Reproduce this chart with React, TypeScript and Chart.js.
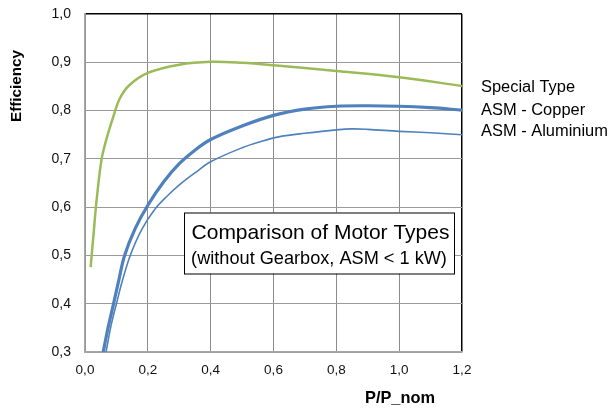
import React, { useEffect, useRef } from "react";
import { Chart, registerables } from "chart.js";

Chart.register(...registerables);

// ---- data ----
const seriesNames = ["Special Type", "ASM - Copper", "ASM - Aluminium"];

const xSpecial = [0.018, 0.028, 0.037, 0.053, 0.07, 0.09, 0.11, 0.14, 0.2, 0.3, 0.4, 0.5, 0.6, 0.8, 1.0, 1.2];
const ySpecial = [0.476, 0.55, 0.615, 0.7, 0.745, 0.787, 0.824, 0.852, 0.878, 0.895, 0.901, 0.899, 0.894, 0.882, 0.869, 0.851];

const xCopper = [0.058, 0.075, 0.091, 0.108, 0.126, 0.16, 0.2, 0.25, 0.3, 0.35, 0.4, 0.5, 0.6, 0.7, 0.8, 0.9, 1.0, 1.1, 1.2];
const yCopper = [0.3, 0.355, 0.4, 0.45, 0.5, 0.556, 0.604, 0.652, 0.69, 0.718, 0.74, 0.768, 0.79, 0.803, 0.809, 0.81, 0.809, 0.806, 0.801];

const xAlu = [0.067, 0.083, 0.1, 0.12, 0.144, 0.18, 0.224, 0.26, 0.304, 0.35, 0.4, 0.5, 0.56, 0.62, 0.7, 0.8, 0.85, 0.9, 1.0, 1.1, 1.2];
const yAlu = [0.3, 0.355, 0.4, 0.45, 0.5, 0.553, 0.597, 0.622, 0.648, 0.671, 0.694, 0.723, 0.736, 0.746, 0.753, 0.76, 0.762, 0.761, 0.757, 0.754, 0.75];

const xTickMin = 0;
const xTickMax = 1.2;
const xTickStep = 0.2;
const yTickMin = 0.3;
const yTickMax = 1.0;
const yTickStep = 0.1;

const xTitle = "P/P_nom";
const yTitle = "Efficiency";
const boxLine1 = "Comparison of Motor Types";
const boxLine2 = "(without Gearbox, ASM < 1 kW)";

// ---- styles ----
const colors = ["#9BBB59", "#4F81BD", "#4F81BD"];
const widths = [2.5, 3.2, 1.6];
const labelOffsets = [1.5, 0, -3.5];
const FONT = '"Liberation Sans", Arial, sans-serif';

const fmt = (v: number) => v.toFixed(1).replace(".", ",");

function fitFont(ctx: CanvasRenderingContext2D, text: string, weight: string, targetW: number) {
  ctx.font = `${weight} 20px ${FONT}`;
  const w = ctx.measureText(text).width;
  const size = (20 * targetW) / w;
  return `${weight} ${size.toFixed(2)}px ${FONT}`;
}

const overlayPlugin = {
  id: "overlay",
  afterDatasetsDraw(chart: any) {
    const ctx: CanvasRenderingContext2D = chart.ctx;
    const area = chart.chartArea;
    ctx.save();

    // series end labels
    ctx.fillStyle = "#000";
    ctx.font = fitFont(ctx, seriesNames[2], "normal", 127);
    ctx.textAlign = "left";
    ctx.textBaseline = "middle";
    chart.data.datasets.forEach((ds: any, i: number) => {
      const meta = chart.getDatasetMeta(i);
      const last = meta.data[meta.data.length - 1];
      ctx.fillText(seriesNames[i], area.right + 19, last.y + labelOffsets[i]);
    });

    // text box
    const bx = 184, by = 212.5, bw = 270, bh = 61;
    ctx.fillStyle = "#fff";
    ctx.fillRect(bx, by, bw, bh);
    ctx.strokeStyle = "#000";
    ctx.lineWidth = 1;
    ctx.strokeRect(bx + 0.5, by + 0.5, bw, bh);
    ctx.fillStyle = "#000";
    ctx.textAlign = "center";
    ctx.textBaseline = "alphabetic";
    ctx.font = fitFont(ctx, boxLine1, "normal", 258);
    ctx.fillText(boxLine1, bx + bw / 2 + 1.5, by + 26);
    ctx.font = fitFont(ctx, boxLine2, "normal", 256);
    ctx.fillText(boxLine2, bx + bw / 2, by + 51.5);

    // axis titles
    ctx.font = fitFont(ctx, xTitle, "bold", 70);
    ctx.textAlign = "center";
    ctx.textBaseline = "middle";
    ctx.fillText(xTitle, 400, 398);

    ctx.translate(17, 86);
    ctx.rotate(-Math.PI / 2);
    ctx.font = fitFont(ctx, yTitle, "bold", 72);
    ctx.fillText(yTitle, 0, 0);
    ctx.restore();
  },
};

export default function App() {
  const ref = useRef<HTMLCanvasElement | null>(null);

  useEffect(() => {
    if (!ref.current) return;
    const mk = (xs: number[], ys: number[]) => xs.map((x, i) => ({ x, y: ys[i] }));
    const sets = [mk(xSpecial, ySpecial), mk(xCopper, yCopper), mk(xAlu, yAlu)];

    const chart = new Chart(ref.current, {
      type: "line",
      data: {
        datasets: sets.map((d, i) => ({
          label: seriesNames[i],
          data: d,
          borderColor: colors[i],
          borderWidth: widths[i],
          pointRadius: 0,
          fill: false,
          tension: 0.35,
        })),
      },
      options: {
        animation: false,
        responsive: false,
        devicePixelRatio: 1,
        layout: { autoPadding: false, padding: { top: 14, right: 148, bottom: 0, left: 0 } },
        plugins: {
          legend: { display: false },
          tooltip: { enabled: false },
          title: { display: false },
        },
        scales: {
          x: {
            type: "linear",
            min: xTickMin,
            max: xTickMax,
            ticks: {
              stepSize: xTickStep,
              padding: 10,
              color: "#111",
              font: { family: FONT, size: 13.5 },
              callback: (v: any) => fmt(Number(v)),
            },
            grid: {
              drawTicks: false,
              color: (c: any) => (Math.abs(c.tick.value - xTickMax) < 1e-6 ? "#000" : "#8a8a8a"),
              lineWidth: (c: any) => (Math.abs(c.tick.value - xTickMax) < 1e-6 ? 1.5 : 1),
            },
            border: { color: "#a6a6a6", width: 1.5 },
            afterFit: (s: any) => {
              s.height = 56;
              s.paddingLeft = 0;
              s.paddingRight = 0;
            },
          },
          y: {
            type: "linear",
            min: yTickMin,
            max: yTickMax,
            ticks: {
              stepSize: yTickStep,
              padding: 14,
              color: "#111",
              font: { family: FONT, size: 14 },
              callback: (v: any) => fmt(Number(v)),
            },
            grid: {
              drawTicks: false,
              color: (c: any) => (Math.abs(c.tick.value - yTickMax) < 1e-6 ? "#000" : "#9a9a9a"),
              lineWidth: (c: any) => (Math.abs(c.tick.value - yTickMax) < 1e-6 ? 1.5 : 1),
            },
            border: { color: "#a6a6a6", width: 1.5 },
            afterFit: (s: any) => {
              s.width = 85;
              s.paddingTop = 0;
              s.paddingBottom = 0;
            },
          },
        },
      } as any,
      plugins: [overlayPlugin],
    });
    return () => chart.destroy();
  }, []);

  return (
    <div style={{ position: "fixed", left: 0, top: 0, width: 610, height: 408, background: "#fff" }}>
      <canvas ref={ref} width={610} height={408} style={{ display: "block", width: 610, height: 408 }} />
    </div>
  );
}
